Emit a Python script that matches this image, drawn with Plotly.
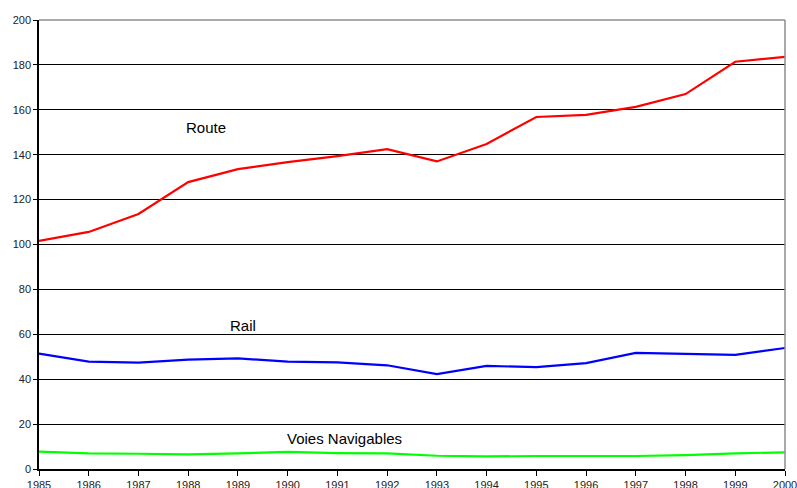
import plotly.graph_objects as go

years = list(range(1985, 2001))
route = [101.6, 105.6, 113.6, 127.8, 133.6, 136.7, 139.4, 142.5, 137.0, 144.8,
         156.8, 157.7, 161.3, 167.0, 181.4, 183.6]
rail = [51.4, 47.8, 47.4, 48.7, 49.3, 47.8, 47.5, 46.2, 42.3, 45.9,
        45.4, 47.2, 51.7, 51.2, 50.8, 53.9]
voies = [7.7, 7.0, 6.8, 6.5, 7.0, 7.6, 7.1, 7.0, 5.9, 5.6,
         5.8, 5.8, 5.8, 6.2, 7.0, 7.4]

y_ticks = list(range(0, 201, 20))
font_family = "Liberation Sans, Arial, sans-serif"

fig = go.Figure()
fig.add_trace(go.Scatter(x=years, y=route, mode="lines", name="Route",
                         line=dict(color="#ff0000", width=2.2)))
fig.add_trace(go.Scatter(x=years, y=rail, mode="lines", name="Rail",
                         line=dict(color="#0000ff", width=2.2)))
fig.add_trace(go.Scatter(x=years, y=voies, mode="lines", name="Voies Navigables",
                         line=dict(color="#00ff00", width=2.2)))

# series labels placed beside each line
fig.add_annotation(x=1988.35, y=152, text="Route", showarrow=False,
                   font=dict(family=font_family, size=15, color="#000"))
fig.add_annotation(x=1989.1, y=64, text="Rail", showarrow=False,
                   font=dict(family=font_family, size=15, color="#000"))
fig.add_annotation(x=1991.15, y=13.4, text="Voies Navigables", showarrow=False,
                   font=dict(family=font_family, size=15, color="#000"))

# grey frame on the top and right sides of the plot area
fig.add_shape(type="line", xref="paper", yref="paper", x0=0, x1=1, y0=1, y1=1,
              line=dict(color="#8c8c8c", width=1.5))
fig.add_shape(type="line", xref="paper", yref="paper", x0=1, x1=1, y0=0, y1=1,
              line=dict(color="#8c8c8c", width=1.5))

fig.update_layout(
    width=797, height=488,
    margin=dict(l=39, r=12, t=20, b=19),
    paper_bgcolor="white", plot_bgcolor="white",
    showlegend=False,
    font=dict(family=font_family, size=11, color="#222"),
    xaxis=dict(range=[1985, 2000], tickmode="array", tickvals=years,
               ticktext=[str(y) for y in years],
               showgrid=False, zeroline=False, automargin=False,
               ticklabeloverflow="allow",
               showline=True, linecolor="#000", linewidth=1.5,
               ticks="outside", ticklen=5, tickcolor="#000", tickwidth=1),
    yaxis=dict(range=[0, 200], tickmode="array", tickvals=y_ticks,
               showgrid=True, gridcolor="#000", gridwidth=1,
               zeroline=False, automargin=False,
               showline=True, linecolor="#000", linewidth=1.5,
               ticks="outside", ticklen=4, tickcolor="#000", tickwidth=1),
)

fig.write_html("out.html")
